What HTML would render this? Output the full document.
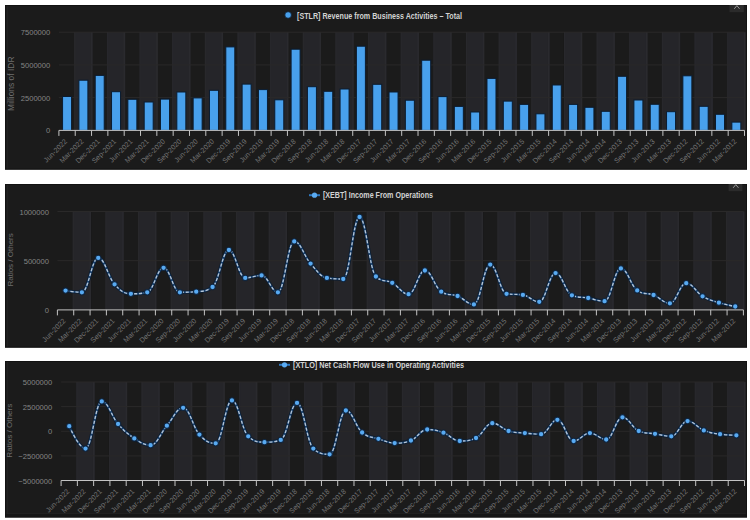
<!DOCTYPE html>
<html><head><meta charset="utf-8"><title>Charts</title>
<style>
html,body{margin:0;padding:0;background:#ffffff;}
body{width:750px;height:520px;overflow:hidden;}
svg{display:block;font-family:"Liberation Sans", sans-serif;}
</style></head>
<body>
<svg width="750" height="520" viewBox="0 0 750 520">
<rect x="0" y="0" width="750" height="520" fill="#ffffff"/>
<rect x="5" y="5" width="742" height="164.6" fill="#1b1b1b"/>
<rect x="5.5" y="5.5" width="741" height="163.6" fill="none" stroke="#121212" stroke-width="1"/>
<rect x="7" y="6" width="0.8" height="162.6" fill="#222222"/>
<rect x="74.27" y="32.20" width="18.22" height="98.20" fill="#252529"/>
<rect x="74.27" y="32.20" width="1" height="98.20" fill="#29292d"/>
<rect x="90.90" y="32.20" width="1.6" height="98.20" fill="#2a2a2e"/>
<rect x="106.92" y="32.20" width="18.22" height="98.20" fill="#252529"/>
<rect x="106.92" y="32.20" width="1" height="98.20" fill="#29292d"/>
<rect x="123.55" y="32.20" width="1.6" height="98.20" fill="#2a2a2e"/>
<rect x="139.57" y="32.20" width="18.22" height="98.20" fill="#252529"/>
<rect x="139.57" y="32.20" width="1" height="98.20" fill="#29292d"/>
<rect x="156.19" y="32.20" width="1.6" height="98.20" fill="#2a2a2e"/>
<rect x="172.22" y="32.20" width="18.22" height="98.20" fill="#252529"/>
<rect x="172.22" y="32.20" width="1" height="98.20" fill="#29292d"/>
<rect x="188.84" y="32.20" width="1.6" height="98.20" fill="#2a2a2e"/>
<rect x="204.86" y="32.20" width="18.22" height="98.20" fill="#252529"/>
<rect x="204.86" y="32.20" width="1" height="98.20" fill="#29292d"/>
<rect x="221.49" y="32.20" width="1.6" height="98.20" fill="#2a2a2e"/>
<rect x="237.51" y="32.20" width="18.22" height="98.20" fill="#252529"/>
<rect x="237.51" y="32.20" width="1" height="98.20" fill="#29292d"/>
<rect x="254.14" y="32.20" width="1.6" height="98.20" fill="#2a2a2e"/>
<rect x="270.16" y="32.20" width="18.22" height="98.20" fill="#252529"/>
<rect x="270.16" y="32.20" width="1" height="98.20" fill="#29292d"/>
<rect x="286.78" y="32.20" width="1.6" height="98.20" fill="#2a2a2e"/>
<rect x="302.81" y="32.20" width="18.22" height="98.20" fill="#252529"/>
<rect x="302.81" y="32.20" width="1" height="98.20" fill="#29292d"/>
<rect x="319.43" y="32.20" width="1.6" height="98.20" fill="#2a2a2e"/>
<rect x="335.45" y="32.20" width="18.22" height="98.20" fill="#252529"/>
<rect x="335.45" y="32.20" width="1" height="98.20" fill="#29292d"/>
<rect x="352.08" y="32.20" width="1.6" height="98.20" fill="#2a2a2e"/>
<rect x="368.10" y="32.20" width="18.22" height="98.20" fill="#252529"/>
<rect x="368.10" y="32.20" width="1" height="98.20" fill="#29292d"/>
<rect x="384.73" y="32.20" width="1.6" height="98.20" fill="#2a2a2e"/>
<rect x="400.75" y="32.20" width="18.22" height="98.20" fill="#252529"/>
<rect x="400.75" y="32.20" width="1" height="98.20" fill="#29292d"/>
<rect x="417.37" y="32.20" width="1.6" height="98.20" fill="#2a2a2e"/>
<rect x="433.40" y="32.20" width="18.22" height="98.20" fill="#252529"/>
<rect x="433.40" y="32.20" width="1" height="98.20" fill="#29292d"/>
<rect x="450.02" y="32.20" width="1.6" height="98.20" fill="#2a2a2e"/>
<rect x="466.05" y="32.20" width="18.22" height="98.20" fill="#252529"/>
<rect x="466.05" y="32.20" width="1" height="98.20" fill="#29292d"/>
<rect x="482.67" y="32.20" width="1.6" height="98.20" fill="#2a2a2e"/>
<rect x="498.69" y="32.20" width="18.22" height="98.20" fill="#252529"/>
<rect x="498.69" y="32.20" width="1" height="98.20" fill="#29292d"/>
<rect x="515.32" y="32.20" width="1.6" height="98.20" fill="#2a2a2e"/>
<rect x="531.34" y="32.20" width="18.22" height="98.20" fill="#252529"/>
<rect x="531.34" y="32.20" width="1" height="98.20" fill="#29292d"/>
<rect x="547.96" y="32.20" width="1.6" height="98.20" fill="#2a2a2e"/>
<rect x="563.99" y="32.20" width="18.22" height="98.20" fill="#252529"/>
<rect x="563.99" y="32.20" width="1" height="98.20" fill="#29292d"/>
<rect x="580.61" y="32.20" width="1.6" height="98.20" fill="#2a2a2e"/>
<rect x="596.64" y="32.20" width="18.22" height="98.20" fill="#252529"/>
<rect x="596.64" y="32.20" width="1" height="98.20" fill="#29292d"/>
<rect x="613.26" y="32.20" width="1.6" height="98.20" fill="#2a2a2e"/>
<rect x="629.28" y="32.20" width="18.22" height="98.20" fill="#252529"/>
<rect x="629.28" y="32.20" width="1" height="98.20" fill="#29292d"/>
<rect x="645.91" y="32.20" width="1.6" height="98.20" fill="#2a2a2e"/>
<rect x="661.93" y="32.20" width="18.22" height="98.20" fill="#252529"/>
<rect x="661.93" y="32.20" width="1" height="98.20" fill="#29292d"/>
<rect x="678.55" y="32.20" width="1.6" height="98.20" fill="#2a2a2e"/>
<rect x="694.58" y="32.20" width="18.22" height="98.20" fill="#252529"/>
<rect x="694.58" y="32.20" width="1" height="98.20" fill="#29292d"/>
<rect x="711.20" y="32.20" width="1.6" height="98.20" fill="#2a2a2e"/>
<rect x="727.23" y="32.20" width="18.22" height="98.20" fill="#252529"/>
<rect x="727.23" y="32.20" width="1" height="98.20" fill="#29292d"/>
<rect x="743.85" y="32.20" width="1.6" height="98.20" fill="#2a2a2e"/>
<line x1="58.90" x2="744.50" y1="32.20" y2="32.20" stroke="#2a2929" stroke-width="1"/>
<line x1="58.90" x2="744.50" y1="64.90" y2="64.90" stroke="#2a2929" stroke-width="1"/>
<line x1="58.90" x2="744.50" y1="97.60" y2="97.60" stroke="#2a2929" stroke-width="1"/>
<text x="50.3" y="35.20" text-anchor="end" font-size="7.6" fill="#858585">7500000</text>
<text x="50.3" y="67.90" text-anchor="end" font-size="7.6" fill="#858585">5000000</text>
<text x="50.3" y="100.60" text-anchor="end" font-size="7.6" fill="#858585">2500000</text>
<text x="50.3" y="133.40" text-anchor="end" font-size="7.6" fill="#858585">0</text>
<text transform="translate(14.3,83.70) rotate(-90)" text-anchor="middle" font-size="8.45" fill="#6e6e6e">Millions of IDR</text>
<rect x="62.56" y="96.50" width="9" height="33.90" fill="#48a0ec" stroke="#0b1c30" stroke-width="1"/>
<rect x="78.89" y="80.20" width="9" height="50.20" fill="#48a0ec" stroke="#0b1c30" stroke-width="1"/>
<rect x="95.21" y="75.40" width="9" height="55.00" fill="#48a0ec" stroke="#0b1c30" stroke-width="1"/>
<rect x="111.53" y="91.70" width="9" height="38.70" fill="#48a0ec" stroke="#0b1c30" stroke-width="1"/>
<rect x="127.86" y="99.30" width="9" height="31.10" fill="#48a0ec" stroke="#0b1c30" stroke-width="1"/>
<rect x="144.18" y="102.00" width="9" height="28.40" fill="#48a0ec" stroke="#0b1c30" stroke-width="1"/>
<rect x="160.50" y="99.10" width="9" height="31.30" fill="#48a0ec" stroke="#0b1c30" stroke-width="1"/>
<rect x="176.83" y="92.00" width="9" height="38.40" fill="#48a0ec" stroke="#0b1c30" stroke-width="1"/>
<rect x="193.15" y="97.90" width="9" height="32.50" fill="#48a0ec" stroke="#0b1c30" stroke-width="1"/>
<rect x="209.48" y="90.30" width="9" height="40.10" fill="#48a0ec" stroke="#0b1c30" stroke-width="1"/>
<rect x="225.80" y="46.90" width="9" height="83.50" fill="#48a0ec" stroke="#0b1c30" stroke-width="1"/>
<rect x="242.12" y="84.10" width="9" height="46.30" fill="#48a0ec" stroke="#0b1c30" stroke-width="1"/>
<rect x="258.45" y="89.60" width="9" height="40.80" fill="#48a0ec" stroke="#0b1c30" stroke-width="1"/>
<rect x="274.77" y="99.80" width="9" height="30.60" fill="#48a0ec" stroke="#0b1c30" stroke-width="1"/>
<rect x="291.10" y="49.20" width="9" height="81.20" fill="#48a0ec" stroke="#0b1c30" stroke-width="1"/>
<rect x="307.42" y="86.70" width="9" height="43.70" fill="#48a0ec" stroke="#0b1c30" stroke-width="1"/>
<rect x="323.74" y="91.30" width="9" height="39.10" fill="#48a0ec" stroke="#0b1c30" stroke-width="1"/>
<rect x="340.07" y="89.00" width="9" height="41.40" fill="#48a0ec" stroke="#0b1c30" stroke-width="1"/>
<rect x="356.39" y="46.20" width="9" height="84.20" fill="#48a0ec" stroke="#0b1c30" stroke-width="1"/>
<rect x="372.71" y="84.30" width="9" height="46.10" fill="#48a0ec" stroke="#0b1c30" stroke-width="1"/>
<rect x="389.04" y="92.00" width="9" height="38.40" fill="#48a0ec" stroke="#0b1c30" stroke-width="1"/>
<rect x="405.36" y="100.20" width="9" height="30.20" fill="#48a0ec" stroke="#0b1c30" stroke-width="1"/>
<rect x="421.69" y="60.20" width="9" height="70.20" fill="#48a0ec" stroke="#0b1c30" stroke-width="1"/>
<rect x="438.01" y="96.60" width="9" height="33.80" fill="#48a0ec" stroke="#0b1c30" stroke-width="1"/>
<rect x="454.33" y="106.40" width="9" height="24.00" fill="#48a0ec" stroke="#0b1c30" stroke-width="1"/>
<rect x="470.66" y="112.00" width="9" height="18.40" fill="#48a0ec" stroke="#0b1c30" stroke-width="1"/>
<rect x="486.98" y="78.40" width="9" height="52.00" fill="#48a0ec" stroke="#0b1c30" stroke-width="1"/>
<rect x="503.30" y="101.10" width="9" height="29.30" fill="#48a0ec" stroke="#0b1c30" stroke-width="1"/>
<rect x="519.63" y="104.40" width="9" height="26.00" fill="#48a0ec" stroke="#0b1c30" stroke-width="1"/>
<rect x="535.95" y="113.80" width="9" height="16.60" fill="#48a0ec" stroke="#0b1c30" stroke-width="1"/>
<rect x="552.28" y="85.00" width="9" height="45.40" fill="#48a0ec" stroke="#0b1c30" stroke-width="1"/>
<rect x="568.60" y="104.40" width="9" height="26.00" fill="#48a0ec" stroke="#0b1c30" stroke-width="1"/>
<rect x="584.92" y="107.30" width="9" height="23.10" fill="#48a0ec" stroke="#0b1c30" stroke-width="1"/>
<rect x="601.25" y="111.30" width="9" height="19.10" fill="#48a0ec" stroke="#0b1c30" stroke-width="1"/>
<rect x="617.57" y="76.30" width="9" height="54.10" fill="#48a0ec" stroke="#0b1c30" stroke-width="1"/>
<rect x="633.90" y="100.00" width="9" height="30.40" fill="#48a0ec" stroke="#0b1c30" stroke-width="1"/>
<rect x="650.22" y="104.30" width="9" height="26.10" fill="#48a0ec" stroke="#0b1c30" stroke-width="1"/>
<rect x="666.54" y="111.70" width="9" height="18.70" fill="#48a0ec" stroke="#0b1c30" stroke-width="1"/>
<rect x="682.87" y="75.80" width="9" height="54.60" fill="#48a0ec" stroke="#0b1c30" stroke-width="1"/>
<rect x="699.19" y="106.30" width="9" height="24.10" fill="#48a0ec" stroke="#0b1c30" stroke-width="1"/>
<rect x="715.51" y="114.30" width="9" height="16.10" fill="#48a0ec" stroke="#0b1c30" stroke-width="1"/>
<rect x="731.84" y="122.10" width="9" height="8.30" fill="#48a0ec" stroke="#0b1c30" stroke-width="1"/>
<line x1="58.90" x2="744.50" y1="130.40" y2="130.40" stroke="#c4c4c4" stroke-width="1"/>
<line x1="58.90" x2="58.90" y1="130.40" y2="135.90" stroke="#c4c4c4" stroke-width="1"/>
<line x1="75.22" x2="75.22" y1="130.40" y2="135.90" stroke="#c4c4c4" stroke-width="1"/>
<line x1="91.55" x2="91.55" y1="130.40" y2="135.90" stroke="#c4c4c4" stroke-width="1"/>
<line x1="107.87" x2="107.87" y1="130.40" y2="135.90" stroke="#c4c4c4" stroke-width="1"/>
<line x1="124.20" x2="124.20" y1="130.40" y2="135.90" stroke="#c4c4c4" stroke-width="1"/>
<line x1="140.52" x2="140.52" y1="130.40" y2="135.90" stroke="#c4c4c4" stroke-width="1"/>
<line x1="156.84" x2="156.84" y1="130.40" y2="135.90" stroke="#c4c4c4" stroke-width="1"/>
<line x1="173.17" x2="173.17" y1="130.40" y2="135.90" stroke="#c4c4c4" stroke-width="1"/>
<line x1="189.49" x2="189.49" y1="130.40" y2="135.90" stroke="#c4c4c4" stroke-width="1"/>
<line x1="205.81" x2="205.81" y1="130.40" y2="135.90" stroke="#c4c4c4" stroke-width="1"/>
<line x1="222.14" x2="222.14" y1="130.40" y2="135.90" stroke="#c4c4c4" stroke-width="1"/>
<line x1="238.46" x2="238.46" y1="130.40" y2="135.90" stroke="#c4c4c4" stroke-width="1"/>
<line x1="254.79" x2="254.79" y1="130.40" y2="135.90" stroke="#c4c4c4" stroke-width="1"/>
<line x1="271.11" x2="271.11" y1="130.40" y2="135.90" stroke="#c4c4c4" stroke-width="1"/>
<line x1="287.43" x2="287.43" y1="130.40" y2="135.90" stroke="#c4c4c4" stroke-width="1"/>
<line x1="303.76" x2="303.76" y1="130.40" y2="135.90" stroke="#c4c4c4" stroke-width="1"/>
<line x1="320.08" x2="320.08" y1="130.40" y2="135.90" stroke="#c4c4c4" stroke-width="1"/>
<line x1="336.40" x2="336.40" y1="130.40" y2="135.90" stroke="#c4c4c4" stroke-width="1"/>
<line x1="352.73" x2="352.73" y1="130.40" y2="135.90" stroke="#c4c4c4" stroke-width="1"/>
<line x1="369.05" x2="369.05" y1="130.40" y2="135.90" stroke="#c4c4c4" stroke-width="1"/>
<line x1="385.38" x2="385.38" y1="130.40" y2="135.90" stroke="#c4c4c4" stroke-width="1"/>
<line x1="401.70" x2="401.70" y1="130.40" y2="135.90" stroke="#c4c4c4" stroke-width="1"/>
<line x1="418.02" x2="418.02" y1="130.40" y2="135.90" stroke="#c4c4c4" stroke-width="1"/>
<line x1="434.35" x2="434.35" y1="130.40" y2="135.90" stroke="#c4c4c4" stroke-width="1"/>
<line x1="450.67" x2="450.67" y1="130.40" y2="135.90" stroke="#c4c4c4" stroke-width="1"/>
<line x1="467.00" x2="467.00" y1="130.40" y2="135.90" stroke="#c4c4c4" stroke-width="1"/>
<line x1="483.32" x2="483.32" y1="130.40" y2="135.90" stroke="#c4c4c4" stroke-width="1"/>
<line x1="499.64" x2="499.64" y1="130.40" y2="135.90" stroke="#c4c4c4" stroke-width="1"/>
<line x1="515.97" x2="515.97" y1="130.40" y2="135.90" stroke="#c4c4c4" stroke-width="1"/>
<line x1="532.29" x2="532.29" y1="130.40" y2="135.90" stroke="#c4c4c4" stroke-width="1"/>
<line x1="548.61" x2="548.61" y1="130.40" y2="135.90" stroke="#c4c4c4" stroke-width="1"/>
<line x1="564.94" x2="564.94" y1="130.40" y2="135.90" stroke="#c4c4c4" stroke-width="1"/>
<line x1="581.26" x2="581.26" y1="130.40" y2="135.90" stroke="#c4c4c4" stroke-width="1"/>
<line x1="597.59" x2="597.59" y1="130.40" y2="135.90" stroke="#c4c4c4" stroke-width="1"/>
<line x1="613.91" x2="613.91" y1="130.40" y2="135.90" stroke="#c4c4c4" stroke-width="1"/>
<line x1="630.23" x2="630.23" y1="130.40" y2="135.90" stroke="#c4c4c4" stroke-width="1"/>
<line x1="646.56" x2="646.56" y1="130.40" y2="135.90" stroke="#c4c4c4" stroke-width="1"/>
<line x1="662.88" x2="662.88" y1="130.40" y2="135.90" stroke="#c4c4c4" stroke-width="1"/>
<line x1="679.20" x2="679.20" y1="130.40" y2="135.90" stroke="#c4c4c4" stroke-width="1"/>
<line x1="695.53" x2="695.53" y1="130.40" y2="135.90" stroke="#c4c4c4" stroke-width="1"/>
<line x1="711.85" x2="711.85" y1="130.40" y2="135.90" stroke="#c4c4c4" stroke-width="1"/>
<line x1="728.18" x2="728.18" y1="130.40" y2="135.90" stroke="#c4c4c4" stroke-width="1"/>
<line x1="744.50" x2="744.50" y1="130.40" y2="135.90" stroke="#c4c4c4" stroke-width="1"/>
<text transform="translate(67.66,141.90) rotate(-45)" text-anchor="end" font-size="7.15" fill="#747474">Jun-2022</text>
<text transform="translate(83.99,141.90) rotate(-45)" text-anchor="end" font-size="7.15" fill="#747474">Mar-2022</text>
<text transform="translate(100.31,141.90) rotate(-45)" text-anchor="end" font-size="7.15" fill="#747474">Dec-2021</text>
<text transform="translate(116.63,141.90) rotate(-45)" text-anchor="end" font-size="7.15" fill="#747474">Sep-2021</text>
<text transform="translate(132.96,141.90) rotate(-45)" text-anchor="end" font-size="7.15" fill="#747474">Jun-2021</text>
<text transform="translate(149.28,141.90) rotate(-45)" text-anchor="end" font-size="7.15" fill="#747474">Mar-2021</text>
<text transform="translate(165.60,141.90) rotate(-45)" text-anchor="end" font-size="7.15" fill="#747474">Dec-2020</text>
<text transform="translate(181.93,141.90) rotate(-45)" text-anchor="end" font-size="7.15" fill="#747474">Sep-2020</text>
<text transform="translate(198.25,141.90) rotate(-45)" text-anchor="end" font-size="7.15" fill="#747474">Jun-2020</text>
<text transform="translate(214.58,141.90) rotate(-45)" text-anchor="end" font-size="7.15" fill="#747474">Mar-2020</text>
<text transform="translate(230.90,141.90) rotate(-45)" text-anchor="end" font-size="7.15" fill="#747474">Dec-2019</text>
<text transform="translate(247.22,141.90) rotate(-45)" text-anchor="end" font-size="7.15" fill="#747474">Sep-2019</text>
<text transform="translate(263.55,141.90) rotate(-45)" text-anchor="end" font-size="7.15" fill="#747474">Jun-2019</text>
<text transform="translate(279.87,141.90) rotate(-45)" text-anchor="end" font-size="7.15" fill="#747474">Mar-2019</text>
<text transform="translate(296.20,141.90) rotate(-45)" text-anchor="end" font-size="7.15" fill="#747474">Dec-2018</text>
<text transform="translate(312.52,141.90) rotate(-45)" text-anchor="end" font-size="7.15" fill="#747474">Sep-2018</text>
<text transform="translate(328.84,141.90) rotate(-45)" text-anchor="end" font-size="7.15" fill="#747474">Jun-2018</text>
<text transform="translate(345.17,141.90) rotate(-45)" text-anchor="end" font-size="7.15" fill="#747474">Mar-2018</text>
<text transform="translate(361.49,141.90) rotate(-45)" text-anchor="end" font-size="7.15" fill="#747474">Dec-2017</text>
<text transform="translate(377.81,141.90) rotate(-45)" text-anchor="end" font-size="7.15" fill="#747474">Sep-2017</text>
<text transform="translate(394.14,141.90) rotate(-45)" text-anchor="end" font-size="7.15" fill="#747474">Jun-2017</text>
<text transform="translate(410.46,141.90) rotate(-45)" text-anchor="end" font-size="7.15" fill="#747474">Mar-2017</text>
<text transform="translate(426.79,141.90) rotate(-45)" text-anchor="end" font-size="7.15" fill="#747474">Dec-2016</text>
<text transform="translate(443.11,141.90) rotate(-45)" text-anchor="end" font-size="7.15" fill="#747474">Sep-2016</text>
<text transform="translate(459.43,141.90) rotate(-45)" text-anchor="end" font-size="7.15" fill="#747474">Jun-2016</text>
<text transform="translate(475.76,141.90) rotate(-45)" text-anchor="end" font-size="7.15" fill="#747474">Mar-2016</text>
<text transform="translate(492.08,141.90) rotate(-45)" text-anchor="end" font-size="7.15" fill="#747474">Dec-2015</text>
<text transform="translate(508.40,141.90) rotate(-45)" text-anchor="end" font-size="7.15" fill="#747474">Sep-2015</text>
<text transform="translate(524.73,141.90) rotate(-45)" text-anchor="end" font-size="7.15" fill="#747474">Jun-2015</text>
<text transform="translate(541.05,141.90) rotate(-45)" text-anchor="end" font-size="7.15" fill="#747474">Mar-2015</text>
<text transform="translate(557.38,141.90) rotate(-45)" text-anchor="end" font-size="7.15" fill="#747474">Dec-2014</text>
<text transform="translate(573.70,141.90) rotate(-45)" text-anchor="end" font-size="7.15" fill="#747474">Sep-2014</text>
<text transform="translate(590.02,141.90) rotate(-45)" text-anchor="end" font-size="7.15" fill="#747474">Jun-2014</text>
<text transform="translate(606.35,141.90) rotate(-45)" text-anchor="end" font-size="7.15" fill="#747474">Mar-2014</text>
<text transform="translate(622.67,141.90) rotate(-45)" text-anchor="end" font-size="7.15" fill="#747474">Dec-2013</text>
<text transform="translate(639.00,141.90) rotate(-45)" text-anchor="end" font-size="7.15" fill="#747474">Sep-2013</text>
<text transform="translate(655.32,141.90) rotate(-45)" text-anchor="end" font-size="7.15" fill="#747474">Jun-2013</text>
<text transform="translate(671.64,141.90) rotate(-45)" text-anchor="end" font-size="7.15" fill="#747474">Mar-2013</text>
<text transform="translate(687.97,141.90) rotate(-45)" text-anchor="end" font-size="7.15" fill="#747474">Dec-2012</text>
<text transform="translate(704.29,141.90) rotate(-45)" text-anchor="end" font-size="7.15" fill="#747474">Sep-2012</text>
<text transform="translate(720.61,141.90) rotate(-45)" text-anchor="end" font-size="7.15" fill="#747474">Jun-2012</text>
<text transform="translate(736.94,141.90) rotate(-45)" text-anchor="end" font-size="7.15" fill="#747474">Mar-2012</text>
<circle cx="288.10" cy="15.00" r="3.3" fill="#48a0ec" stroke="#0b1c30" stroke-width="0.8"/>
<text x="297.00" y="19.10" font-size="8.4" font-weight="bold" fill="#d2d2d2" textLength="165" lengthAdjust="spacingAndGlyphs">[STLR] Revenue from Business Activities – Total</text>
<rect x="729.5" y="5" width="14.3" height="7.2" fill="#2b2b2b"/>
<path d="M734.3,8.8 L736.9,5.6 L739.5,8.8" fill="none" stroke="#9a9a9a" stroke-width="1"/>
<rect x="5" y="184" width="742" height="163.6" fill="#1b1b1b"/>
<rect x="5.5" y="184.5" width="741" height="162.6" fill="none" stroke="#121212" stroke-width="1"/>
<rect x="7" y="185" width="0.8" height="161.6" fill="#222222"/>
<rect x="72.78" y="211.50" width="18.23" height="98.40" fill="#252529"/>
<rect x="72.78" y="211.50" width="1" height="98.40" fill="#29292d"/>
<rect x="89.42" y="211.50" width="1.6" height="98.40" fill="#2a2a2e"/>
<rect x="105.45" y="211.50" width="18.23" height="98.40" fill="#252529"/>
<rect x="105.45" y="211.50" width="1" height="98.40" fill="#29292d"/>
<rect x="122.08" y="211.50" width="1.6" height="98.40" fill="#2a2a2e"/>
<rect x="138.12" y="211.50" width="18.23" height="98.40" fill="#252529"/>
<rect x="138.12" y="211.50" width="1" height="98.40" fill="#29292d"/>
<rect x="154.75" y="211.50" width="1.6" height="98.40" fill="#2a2a2e"/>
<rect x="170.78" y="211.50" width="18.23" height="98.40" fill="#252529"/>
<rect x="170.78" y="211.50" width="1" height="98.40" fill="#29292d"/>
<rect x="187.42" y="211.50" width="1.6" height="98.40" fill="#2a2a2e"/>
<rect x="203.45" y="211.50" width="18.23" height="98.40" fill="#252529"/>
<rect x="203.45" y="211.50" width="1" height="98.40" fill="#29292d"/>
<rect x="220.08" y="211.50" width="1.6" height="98.40" fill="#2a2a2e"/>
<rect x="236.12" y="211.50" width="18.23" height="98.40" fill="#252529"/>
<rect x="236.12" y="211.50" width="1" height="98.40" fill="#29292d"/>
<rect x="252.75" y="211.50" width="1.6" height="98.40" fill="#2a2a2e"/>
<rect x="268.78" y="211.50" width="18.23" height="98.40" fill="#252529"/>
<rect x="268.78" y="211.50" width="1" height="98.40" fill="#29292d"/>
<rect x="285.42" y="211.50" width="1.6" height="98.40" fill="#2a2a2e"/>
<rect x="301.45" y="211.50" width="18.23" height="98.40" fill="#252529"/>
<rect x="301.45" y="211.50" width="1" height="98.40" fill="#29292d"/>
<rect x="318.08" y="211.50" width="1.6" height="98.40" fill="#2a2a2e"/>
<rect x="334.12" y="211.50" width="18.23" height="98.40" fill="#252529"/>
<rect x="334.12" y="211.50" width="1" height="98.40" fill="#29292d"/>
<rect x="350.75" y="211.50" width="1.6" height="98.40" fill="#2a2a2e"/>
<rect x="366.78" y="211.50" width="18.23" height="98.40" fill="#252529"/>
<rect x="366.78" y="211.50" width="1" height="98.40" fill="#29292d"/>
<rect x="383.42" y="211.50" width="1.6" height="98.40" fill="#2a2a2e"/>
<rect x="399.45" y="211.50" width="18.23" height="98.40" fill="#252529"/>
<rect x="399.45" y="211.50" width="1" height="98.40" fill="#29292d"/>
<rect x="416.08" y="211.50" width="1.6" height="98.40" fill="#2a2a2e"/>
<rect x="432.12" y="211.50" width="18.23" height="98.40" fill="#252529"/>
<rect x="432.12" y="211.50" width="1" height="98.40" fill="#29292d"/>
<rect x="448.75" y="211.50" width="1.6" height="98.40" fill="#2a2a2e"/>
<rect x="464.78" y="211.50" width="18.23" height="98.40" fill="#252529"/>
<rect x="464.78" y="211.50" width="1" height="98.40" fill="#29292d"/>
<rect x="481.42" y="211.50" width="1.6" height="98.40" fill="#2a2a2e"/>
<rect x="497.45" y="211.50" width="18.23" height="98.40" fill="#252529"/>
<rect x="497.45" y="211.50" width="1" height="98.40" fill="#29292d"/>
<rect x="514.08" y="211.50" width="1.6" height="98.40" fill="#2a2a2e"/>
<rect x="530.12" y="211.50" width="18.23" height="98.40" fill="#252529"/>
<rect x="530.12" y="211.50" width="1" height="98.40" fill="#29292d"/>
<rect x="546.75" y="211.50" width="1.6" height="98.40" fill="#2a2a2e"/>
<rect x="562.78" y="211.50" width="18.23" height="98.40" fill="#252529"/>
<rect x="562.78" y="211.50" width="1" height="98.40" fill="#29292d"/>
<rect x="579.42" y="211.50" width="1.6" height="98.40" fill="#2a2a2e"/>
<rect x="595.45" y="211.50" width="18.23" height="98.40" fill="#252529"/>
<rect x="595.45" y="211.50" width="1" height="98.40" fill="#29292d"/>
<rect x="612.08" y="211.50" width="1.6" height="98.40" fill="#2a2a2e"/>
<rect x="628.12" y="211.50" width="18.23" height="98.40" fill="#252529"/>
<rect x="628.12" y="211.50" width="1" height="98.40" fill="#29292d"/>
<rect x="644.75" y="211.50" width="1.6" height="98.40" fill="#2a2a2e"/>
<rect x="660.78" y="211.50" width="18.23" height="98.40" fill="#252529"/>
<rect x="660.78" y="211.50" width="1" height="98.40" fill="#29292d"/>
<rect x="677.42" y="211.50" width="1.6" height="98.40" fill="#2a2a2e"/>
<rect x="693.45" y="211.50" width="18.23" height="98.40" fill="#252529"/>
<rect x="693.45" y="211.50" width="1" height="98.40" fill="#29292d"/>
<rect x="710.08" y="211.50" width="1.6" height="98.40" fill="#2a2a2e"/>
<rect x="726.12" y="211.50" width="18.23" height="98.40" fill="#252529"/>
<rect x="726.12" y="211.50" width="1" height="98.40" fill="#29292d"/>
<rect x="742.75" y="211.50" width="1.6" height="98.40" fill="#2a2a2e"/>
<line x1="57.40" x2="743.40" y1="211.50" y2="211.50" stroke="#2a2929" stroke-width="1"/>
<line x1="57.40" x2="743.40" y1="260.70" y2="260.70" stroke="#2a2929" stroke-width="1"/>
<text x="49.0" y="214.50" text-anchor="end" font-size="7.6" fill="#858585">1000000</text>
<text x="49.0" y="263.70" text-anchor="end" font-size="7.6" fill="#858585">500000</text>
<text x="49.0" y="312.90" text-anchor="end" font-size="7.6" fill="#858585">0</text>
<text transform="translate(12.5,259.90) rotate(-90)" text-anchor="middle" font-size="8.0" fill="#6e6e6e">Ratios / Others</text>
<path d="M65.57,290.60 C65.57,290.60 75.37,292.30 81.90,292.30 C88.43,292.30 91.70,257.90 98.23,257.90 C104.77,257.90 108.03,277.12 114.57,284.30 C121.10,291.48 124.37,293.80 130.90,293.80 C137.43,293.80 140.70,293.80 147.23,292.30 C153.77,290.80 157.03,267.80 163.57,267.80 C170.10,267.80 173.37,292.30 179.90,292.30 C186.43,292.30 189.70,292.30 196.23,291.70 C202.77,291.10 206.03,291.70 212.57,287.00 C219.10,282.30 222.37,250.00 228.90,250.00 C235.43,250.00 238.70,277.90 245.23,277.90 C251.77,277.90 255.03,275.40 261.57,275.40 C268.10,275.40 271.37,292.30 277.90,292.30 C284.43,292.30 287.70,241.40 294.23,241.40 C300.77,241.40 304.03,256.30 310.57,263.60 C317.10,270.90 320.37,276.80 326.90,277.90 C333.43,279.00 336.70,279.00 343.23,279.00 C349.77,279.00 353.03,217.00 359.57,217.00 C366.10,217.00 369.37,270.20 375.90,276.50 C382.43,282.80 385.70,279.26 392.23,282.80 C398.77,286.34 402.03,294.20 408.57,294.20 C415.10,294.20 418.37,270.50 424.90,270.50 C431.43,270.50 434.70,287.40 441.23,291.70 C447.77,296.00 451.03,293.46 457.57,296.00 C464.10,298.54 467.37,304.40 473.90,304.40 C480.43,304.40 483.70,264.60 490.23,264.60 C496.77,264.60 500.03,292.70 506.57,293.80 C513.10,294.90 516.37,293.80 522.90,294.90 C529.43,296.00 532.70,301.80 539.23,301.80 C545.77,301.80 549.03,273.10 555.57,273.10 C562.10,273.10 565.37,292.60 571.90,295.30 C578.43,298.00 581.70,296.82 588.23,298.00 C594.77,299.18 598.03,301.20 604.57,301.20 C611.10,301.20 614.37,268.40 620.90,268.40 C627.43,268.40 630.70,285.80 637.23,290.40 C643.77,295.00 647.03,292.42 653.57,295.00 C660.10,297.58 663.37,303.30 669.90,303.30 C676.43,303.30 679.70,283.20 686.23,283.20 C692.77,283.20 696.03,292.40 702.57,296.30 C709.10,300.20 712.37,300.66 718.90,302.70 C725.43,304.74 735.23,306.50 735.23,306.50" fill="none" stroke="#0b1d33" stroke-width="3.5" stroke-opacity="0.85"/>
<path d="M65.57,290.60 C65.57,290.60 75.37,292.30 81.90,292.30 C88.43,292.30 91.70,257.90 98.23,257.90 C104.77,257.90 108.03,277.12 114.57,284.30 C121.10,291.48 124.37,293.80 130.90,293.80 C137.43,293.80 140.70,293.80 147.23,292.30 C153.77,290.80 157.03,267.80 163.57,267.80 C170.10,267.80 173.37,292.30 179.90,292.30 C186.43,292.30 189.70,292.30 196.23,291.70 C202.77,291.10 206.03,291.70 212.57,287.00 C219.10,282.30 222.37,250.00 228.90,250.00 C235.43,250.00 238.70,277.90 245.23,277.90 C251.77,277.90 255.03,275.40 261.57,275.40 C268.10,275.40 271.37,292.30 277.90,292.30 C284.43,292.30 287.70,241.40 294.23,241.40 C300.77,241.40 304.03,256.30 310.57,263.60 C317.10,270.90 320.37,276.80 326.90,277.90 C333.43,279.00 336.70,279.00 343.23,279.00 C349.77,279.00 353.03,217.00 359.57,217.00 C366.10,217.00 369.37,270.20 375.90,276.50 C382.43,282.80 385.70,279.26 392.23,282.80 C398.77,286.34 402.03,294.20 408.57,294.20 C415.10,294.20 418.37,270.50 424.90,270.50 C431.43,270.50 434.70,287.40 441.23,291.70 C447.77,296.00 451.03,293.46 457.57,296.00 C464.10,298.54 467.37,304.40 473.90,304.40 C480.43,304.40 483.70,264.60 490.23,264.60 C496.77,264.60 500.03,292.70 506.57,293.80 C513.10,294.90 516.37,293.80 522.90,294.90 C529.43,296.00 532.70,301.80 539.23,301.80 C545.77,301.80 549.03,273.10 555.57,273.10 C562.10,273.10 565.37,292.60 571.90,295.30 C578.43,298.00 581.70,296.82 588.23,298.00 C594.77,299.18 598.03,301.20 604.57,301.20 C611.10,301.20 614.37,268.40 620.90,268.40 C627.43,268.40 630.70,285.80 637.23,290.40 C643.77,295.00 647.03,292.42 653.57,295.00 C660.10,297.58 663.37,303.30 669.90,303.30 C676.43,303.30 679.70,283.20 686.23,283.20 C692.77,283.20 696.03,292.40 702.57,296.30 C709.10,300.20 712.37,300.66 718.90,302.70 C725.43,304.74 735.23,306.50 735.23,306.50" fill="none" stroke="#1a4370" stroke-width="1.8"/>
<path d="M65.57,290.60 C65.57,290.60 75.37,292.30 81.90,292.30 C88.43,292.30 91.70,257.90 98.23,257.90 C104.77,257.90 108.03,277.12 114.57,284.30 C121.10,291.48 124.37,293.80 130.90,293.80 C137.43,293.80 140.70,293.80 147.23,292.30 C153.77,290.80 157.03,267.80 163.57,267.80 C170.10,267.80 173.37,292.30 179.90,292.30 C186.43,292.30 189.70,292.30 196.23,291.70 C202.77,291.10 206.03,291.70 212.57,287.00 C219.10,282.30 222.37,250.00 228.90,250.00 C235.43,250.00 238.70,277.90 245.23,277.90 C251.77,277.90 255.03,275.40 261.57,275.40 C268.10,275.40 271.37,292.30 277.90,292.30 C284.43,292.30 287.70,241.40 294.23,241.40 C300.77,241.40 304.03,256.30 310.57,263.60 C317.10,270.90 320.37,276.80 326.90,277.90 C333.43,279.00 336.70,279.00 343.23,279.00 C349.77,279.00 353.03,217.00 359.57,217.00 C366.10,217.00 369.37,270.20 375.90,276.50 C382.43,282.80 385.70,279.26 392.23,282.80 C398.77,286.34 402.03,294.20 408.57,294.20 C415.10,294.20 418.37,270.50 424.90,270.50 C431.43,270.50 434.70,287.40 441.23,291.70 C447.77,296.00 451.03,293.46 457.57,296.00 C464.10,298.54 467.37,304.40 473.90,304.40 C480.43,304.40 483.70,264.60 490.23,264.60 C496.77,264.60 500.03,292.70 506.57,293.80 C513.10,294.90 516.37,293.80 522.90,294.90 C529.43,296.00 532.70,301.80 539.23,301.80 C545.77,301.80 549.03,273.10 555.57,273.10 C562.10,273.10 565.37,292.60 571.90,295.30 C578.43,298.00 581.70,296.82 588.23,298.00 C594.77,299.18 598.03,301.20 604.57,301.20 C611.10,301.20 614.37,268.40 620.90,268.40 C627.43,268.40 630.70,285.80 637.23,290.40 C643.77,295.00 647.03,292.42 653.57,295.00 C660.10,297.58 663.37,303.30 669.90,303.30 C676.43,303.30 679.70,283.20 686.23,283.20 C692.77,283.20 696.03,292.40 702.57,296.30 C709.10,300.20 712.37,300.66 718.90,302.70 C725.43,304.74 735.23,306.50 735.23,306.50" fill="none" stroke="#b4c4d6" stroke-width="1.35" stroke-dasharray="3.2 1.8"/>
<circle cx="65.57" cy="290.60" r="2.7" fill="#58aaf2" stroke="#0c2038" stroke-width="1.1" stroke-opacity="0.9"/>
<circle cx="81.90" cy="292.30" r="2.7" fill="#58aaf2" stroke="#0c2038" stroke-width="1.1" stroke-opacity="0.9"/>
<circle cx="98.23" cy="257.90" r="2.7" fill="#58aaf2" stroke="#0c2038" stroke-width="1.1" stroke-opacity="0.9"/>
<circle cx="114.57" cy="284.30" r="2.7" fill="#58aaf2" stroke="#0c2038" stroke-width="1.1" stroke-opacity="0.9"/>
<circle cx="130.90" cy="293.80" r="2.7" fill="#58aaf2" stroke="#0c2038" stroke-width="1.1" stroke-opacity="0.9"/>
<circle cx="147.23" cy="292.30" r="2.7" fill="#58aaf2" stroke="#0c2038" stroke-width="1.1" stroke-opacity="0.9"/>
<circle cx="163.57" cy="267.80" r="2.7" fill="#58aaf2" stroke="#0c2038" stroke-width="1.1" stroke-opacity="0.9"/>
<circle cx="179.90" cy="292.30" r="2.7" fill="#58aaf2" stroke="#0c2038" stroke-width="1.1" stroke-opacity="0.9"/>
<circle cx="196.23" cy="291.70" r="2.7" fill="#58aaf2" stroke="#0c2038" stroke-width="1.1" stroke-opacity="0.9"/>
<circle cx="212.57" cy="287.00" r="2.7" fill="#58aaf2" stroke="#0c2038" stroke-width="1.1" stroke-opacity="0.9"/>
<circle cx="228.90" cy="250.00" r="2.7" fill="#58aaf2" stroke="#0c2038" stroke-width="1.1" stroke-opacity="0.9"/>
<circle cx="245.23" cy="277.90" r="2.7" fill="#58aaf2" stroke="#0c2038" stroke-width="1.1" stroke-opacity="0.9"/>
<circle cx="261.57" cy="275.40" r="2.7" fill="#58aaf2" stroke="#0c2038" stroke-width="1.1" stroke-opacity="0.9"/>
<circle cx="277.90" cy="292.30" r="2.7" fill="#58aaf2" stroke="#0c2038" stroke-width="1.1" stroke-opacity="0.9"/>
<circle cx="294.23" cy="241.40" r="2.7" fill="#58aaf2" stroke="#0c2038" stroke-width="1.1" stroke-opacity="0.9"/>
<circle cx="310.57" cy="263.60" r="2.7" fill="#58aaf2" stroke="#0c2038" stroke-width="1.1" stroke-opacity="0.9"/>
<circle cx="326.90" cy="277.90" r="2.7" fill="#58aaf2" stroke="#0c2038" stroke-width="1.1" stroke-opacity="0.9"/>
<circle cx="343.23" cy="279.00" r="2.7" fill="#58aaf2" stroke="#0c2038" stroke-width="1.1" stroke-opacity="0.9"/>
<circle cx="359.57" cy="217.00" r="2.7" fill="#58aaf2" stroke="#0c2038" stroke-width="1.1" stroke-opacity="0.9"/>
<circle cx="375.90" cy="276.50" r="2.7" fill="#58aaf2" stroke="#0c2038" stroke-width="1.1" stroke-opacity="0.9"/>
<circle cx="392.23" cy="282.80" r="2.7" fill="#58aaf2" stroke="#0c2038" stroke-width="1.1" stroke-opacity="0.9"/>
<circle cx="408.57" cy="294.20" r="2.7" fill="#58aaf2" stroke="#0c2038" stroke-width="1.1" stroke-opacity="0.9"/>
<circle cx="424.90" cy="270.50" r="2.7" fill="#58aaf2" stroke="#0c2038" stroke-width="1.1" stroke-opacity="0.9"/>
<circle cx="441.23" cy="291.70" r="2.7" fill="#58aaf2" stroke="#0c2038" stroke-width="1.1" stroke-opacity="0.9"/>
<circle cx="457.57" cy="296.00" r="2.7" fill="#58aaf2" stroke="#0c2038" stroke-width="1.1" stroke-opacity="0.9"/>
<circle cx="473.90" cy="304.40" r="2.7" fill="#58aaf2" stroke="#0c2038" stroke-width="1.1" stroke-opacity="0.9"/>
<circle cx="490.23" cy="264.60" r="2.7" fill="#58aaf2" stroke="#0c2038" stroke-width="1.1" stroke-opacity="0.9"/>
<circle cx="506.57" cy="293.80" r="2.7" fill="#58aaf2" stroke="#0c2038" stroke-width="1.1" stroke-opacity="0.9"/>
<circle cx="522.90" cy="294.90" r="2.7" fill="#58aaf2" stroke="#0c2038" stroke-width="1.1" stroke-opacity="0.9"/>
<circle cx="539.23" cy="301.80" r="2.7" fill="#58aaf2" stroke="#0c2038" stroke-width="1.1" stroke-opacity="0.9"/>
<circle cx="555.57" cy="273.10" r="2.7" fill="#58aaf2" stroke="#0c2038" stroke-width="1.1" stroke-opacity="0.9"/>
<circle cx="571.90" cy="295.30" r="2.7" fill="#58aaf2" stroke="#0c2038" stroke-width="1.1" stroke-opacity="0.9"/>
<circle cx="588.23" cy="298.00" r="2.7" fill="#58aaf2" stroke="#0c2038" stroke-width="1.1" stroke-opacity="0.9"/>
<circle cx="604.57" cy="301.20" r="2.7" fill="#58aaf2" stroke="#0c2038" stroke-width="1.1" stroke-opacity="0.9"/>
<circle cx="620.90" cy="268.40" r="2.7" fill="#58aaf2" stroke="#0c2038" stroke-width="1.1" stroke-opacity="0.9"/>
<circle cx="637.23" cy="290.40" r="2.7" fill="#58aaf2" stroke="#0c2038" stroke-width="1.1" stroke-opacity="0.9"/>
<circle cx="653.57" cy="295.00" r="2.7" fill="#58aaf2" stroke="#0c2038" stroke-width="1.1" stroke-opacity="0.9"/>
<circle cx="669.90" cy="303.30" r="2.7" fill="#58aaf2" stroke="#0c2038" stroke-width="1.1" stroke-opacity="0.9"/>
<circle cx="686.23" cy="283.20" r="2.7" fill="#58aaf2" stroke="#0c2038" stroke-width="1.1" stroke-opacity="0.9"/>
<circle cx="702.57" cy="296.30" r="2.7" fill="#58aaf2" stroke="#0c2038" stroke-width="1.1" stroke-opacity="0.9"/>
<circle cx="718.90" cy="302.70" r="2.7" fill="#58aaf2" stroke="#0c2038" stroke-width="1.1" stroke-opacity="0.9"/>
<circle cx="735.23" cy="306.50" r="2.7" fill="#58aaf2" stroke="#0c2038" stroke-width="1.1" stroke-opacity="0.9"/>
<line x1="57.40" x2="743.40" y1="309.90" y2="309.90" stroke="#c4c4c4" stroke-width="1"/>
<line x1="57.40" x2="57.40" y1="309.90" y2="315.40" stroke="#c4c4c4" stroke-width="1"/>
<line x1="73.73" x2="73.73" y1="309.90" y2="315.40" stroke="#c4c4c4" stroke-width="1"/>
<line x1="90.07" x2="90.07" y1="309.90" y2="315.40" stroke="#c4c4c4" stroke-width="1"/>
<line x1="106.40" x2="106.40" y1="309.90" y2="315.40" stroke="#c4c4c4" stroke-width="1"/>
<line x1="122.73" x2="122.73" y1="309.90" y2="315.40" stroke="#c4c4c4" stroke-width="1"/>
<line x1="139.07" x2="139.07" y1="309.90" y2="315.40" stroke="#c4c4c4" stroke-width="1"/>
<line x1="155.40" x2="155.40" y1="309.90" y2="315.40" stroke="#c4c4c4" stroke-width="1"/>
<line x1="171.73" x2="171.73" y1="309.90" y2="315.40" stroke="#c4c4c4" stroke-width="1"/>
<line x1="188.07" x2="188.07" y1="309.90" y2="315.40" stroke="#c4c4c4" stroke-width="1"/>
<line x1="204.40" x2="204.40" y1="309.90" y2="315.40" stroke="#c4c4c4" stroke-width="1"/>
<line x1="220.73" x2="220.73" y1="309.90" y2="315.40" stroke="#c4c4c4" stroke-width="1"/>
<line x1="237.07" x2="237.07" y1="309.90" y2="315.40" stroke="#c4c4c4" stroke-width="1"/>
<line x1="253.40" x2="253.40" y1="309.90" y2="315.40" stroke="#c4c4c4" stroke-width="1"/>
<line x1="269.73" x2="269.73" y1="309.90" y2="315.40" stroke="#c4c4c4" stroke-width="1"/>
<line x1="286.07" x2="286.07" y1="309.90" y2="315.40" stroke="#c4c4c4" stroke-width="1"/>
<line x1="302.40" x2="302.40" y1="309.90" y2="315.40" stroke="#c4c4c4" stroke-width="1"/>
<line x1="318.73" x2="318.73" y1="309.90" y2="315.40" stroke="#c4c4c4" stroke-width="1"/>
<line x1="335.07" x2="335.07" y1="309.90" y2="315.40" stroke="#c4c4c4" stroke-width="1"/>
<line x1="351.40" x2="351.40" y1="309.90" y2="315.40" stroke="#c4c4c4" stroke-width="1"/>
<line x1="367.73" x2="367.73" y1="309.90" y2="315.40" stroke="#c4c4c4" stroke-width="1"/>
<line x1="384.07" x2="384.07" y1="309.90" y2="315.40" stroke="#c4c4c4" stroke-width="1"/>
<line x1="400.40" x2="400.40" y1="309.90" y2="315.40" stroke="#c4c4c4" stroke-width="1"/>
<line x1="416.73" x2="416.73" y1="309.90" y2="315.40" stroke="#c4c4c4" stroke-width="1"/>
<line x1="433.07" x2="433.07" y1="309.90" y2="315.40" stroke="#c4c4c4" stroke-width="1"/>
<line x1="449.40" x2="449.40" y1="309.90" y2="315.40" stroke="#c4c4c4" stroke-width="1"/>
<line x1="465.73" x2="465.73" y1="309.90" y2="315.40" stroke="#c4c4c4" stroke-width="1"/>
<line x1="482.07" x2="482.07" y1="309.90" y2="315.40" stroke="#c4c4c4" stroke-width="1"/>
<line x1="498.40" x2="498.40" y1="309.90" y2="315.40" stroke="#c4c4c4" stroke-width="1"/>
<line x1="514.73" x2="514.73" y1="309.90" y2="315.40" stroke="#c4c4c4" stroke-width="1"/>
<line x1="531.07" x2="531.07" y1="309.90" y2="315.40" stroke="#c4c4c4" stroke-width="1"/>
<line x1="547.40" x2="547.40" y1="309.90" y2="315.40" stroke="#c4c4c4" stroke-width="1"/>
<line x1="563.73" x2="563.73" y1="309.90" y2="315.40" stroke="#c4c4c4" stroke-width="1"/>
<line x1="580.07" x2="580.07" y1="309.90" y2="315.40" stroke="#c4c4c4" stroke-width="1"/>
<line x1="596.40" x2="596.40" y1="309.90" y2="315.40" stroke="#c4c4c4" stroke-width="1"/>
<line x1="612.73" x2="612.73" y1="309.90" y2="315.40" stroke="#c4c4c4" stroke-width="1"/>
<line x1="629.07" x2="629.07" y1="309.90" y2="315.40" stroke="#c4c4c4" stroke-width="1"/>
<line x1="645.40" x2="645.40" y1="309.90" y2="315.40" stroke="#c4c4c4" stroke-width="1"/>
<line x1="661.73" x2="661.73" y1="309.90" y2="315.40" stroke="#c4c4c4" stroke-width="1"/>
<line x1="678.07" x2="678.07" y1="309.90" y2="315.40" stroke="#c4c4c4" stroke-width="1"/>
<line x1="694.40" x2="694.40" y1="309.90" y2="315.40" stroke="#c4c4c4" stroke-width="1"/>
<line x1="710.73" x2="710.73" y1="309.90" y2="315.40" stroke="#c4c4c4" stroke-width="1"/>
<line x1="727.07" x2="727.07" y1="309.90" y2="315.40" stroke="#c4c4c4" stroke-width="1"/>
<line x1="743.40" x2="743.40" y1="309.90" y2="315.40" stroke="#c4c4c4" stroke-width="1"/>
<text transform="translate(66.17,321.40) rotate(-45)" text-anchor="end" font-size="7.15" fill="#747474">Jun-2022</text>
<text transform="translate(82.50,321.40) rotate(-45)" text-anchor="end" font-size="7.15" fill="#747474">Mar-2022</text>
<text transform="translate(98.83,321.40) rotate(-45)" text-anchor="end" font-size="7.15" fill="#747474">Dec-2021</text>
<text transform="translate(115.17,321.40) rotate(-45)" text-anchor="end" font-size="7.15" fill="#747474">Sep-2021</text>
<text transform="translate(131.50,321.40) rotate(-45)" text-anchor="end" font-size="7.15" fill="#747474">Jun-2021</text>
<text transform="translate(147.83,321.40) rotate(-45)" text-anchor="end" font-size="7.15" fill="#747474">Mar-2021</text>
<text transform="translate(164.17,321.40) rotate(-45)" text-anchor="end" font-size="7.15" fill="#747474">Dec-2020</text>
<text transform="translate(180.50,321.40) rotate(-45)" text-anchor="end" font-size="7.15" fill="#747474">Sep-2020</text>
<text transform="translate(196.83,321.40) rotate(-45)" text-anchor="end" font-size="7.15" fill="#747474">Jun-2020</text>
<text transform="translate(213.17,321.40) rotate(-45)" text-anchor="end" font-size="7.15" fill="#747474">Mar-2020</text>
<text transform="translate(229.50,321.40) rotate(-45)" text-anchor="end" font-size="7.15" fill="#747474">Dec-2019</text>
<text transform="translate(245.83,321.40) rotate(-45)" text-anchor="end" font-size="7.15" fill="#747474">Sep-2019</text>
<text transform="translate(262.17,321.40) rotate(-45)" text-anchor="end" font-size="7.15" fill="#747474">Jun-2019</text>
<text transform="translate(278.50,321.40) rotate(-45)" text-anchor="end" font-size="7.15" fill="#747474">Mar-2019</text>
<text transform="translate(294.83,321.40) rotate(-45)" text-anchor="end" font-size="7.15" fill="#747474">Dec-2018</text>
<text transform="translate(311.17,321.40) rotate(-45)" text-anchor="end" font-size="7.15" fill="#747474">Sep-2018</text>
<text transform="translate(327.50,321.40) rotate(-45)" text-anchor="end" font-size="7.15" fill="#747474">Jun-2018</text>
<text transform="translate(343.83,321.40) rotate(-45)" text-anchor="end" font-size="7.15" fill="#747474">Mar-2018</text>
<text transform="translate(360.17,321.40) rotate(-45)" text-anchor="end" font-size="7.15" fill="#747474">Dec-2017</text>
<text transform="translate(376.50,321.40) rotate(-45)" text-anchor="end" font-size="7.15" fill="#747474">Sep-2017</text>
<text transform="translate(392.83,321.40) rotate(-45)" text-anchor="end" font-size="7.15" fill="#747474">Jun-2017</text>
<text transform="translate(409.17,321.40) rotate(-45)" text-anchor="end" font-size="7.15" fill="#747474">Mar-2017</text>
<text transform="translate(425.50,321.40) rotate(-45)" text-anchor="end" font-size="7.15" fill="#747474">Dec-2016</text>
<text transform="translate(441.83,321.40) rotate(-45)" text-anchor="end" font-size="7.15" fill="#747474">Sep-2016</text>
<text transform="translate(458.17,321.40) rotate(-45)" text-anchor="end" font-size="7.15" fill="#747474">Jun-2016</text>
<text transform="translate(474.50,321.40) rotate(-45)" text-anchor="end" font-size="7.15" fill="#747474">Mar-2016</text>
<text transform="translate(490.83,321.40) rotate(-45)" text-anchor="end" font-size="7.15" fill="#747474">Dec-2015</text>
<text transform="translate(507.17,321.40) rotate(-45)" text-anchor="end" font-size="7.15" fill="#747474">Sep-2015</text>
<text transform="translate(523.50,321.40) rotate(-45)" text-anchor="end" font-size="7.15" fill="#747474">Jun-2015</text>
<text transform="translate(539.83,321.40) rotate(-45)" text-anchor="end" font-size="7.15" fill="#747474">Mar-2015</text>
<text transform="translate(556.17,321.40) rotate(-45)" text-anchor="end" font-size="7.15" fill="#747474">Dec-2014</text>
<text transform="translate(572.50,321.40) rotate(-45)" text-anchor="end" font-size="7.15" fill="#747474">Sep-2014</text>
<text transform="translate(588.83,321.40) rotate(-45)" text-anchor="end" font-size="7.15" fill="#747474">Jun-2014</text>
<text transform="translate(605.17,321.40) rotate(-45)" text-anchor="end" font-size="7.15" fill="#747474">Mar-2014</text>
<text transform="translate(621.50,321.40) rotate(-45)" text-anchor="end" font-size="7.15" fill="#747474">Dec-2013</text>
<text transform="translate(637.83,321.40) rotate(-45)" text-anchor="end" font-size="7.15" fill="#747474">Sep-2013</text>
<text transform="translate(654.17,321.40) rotate(-45)" text-anchor="end" font-size="7.15" fill="#747474">Jun-2013</text>
<text transform="translate(670.50,321.40) rotate(-45)" text-anchor="end" font-size="7.15" fill="#747474">Mar-2013</text>
<text transform="translate(686.83,321.40) rotate(-45)" text-anchor="end" font-size="7.15" fill="#747474">Dec-2012</text>
<text transform="translate(703.17,321.40) rotate(-45)" text-anchor="end" font-size="7.15" fill="#747474">Sep-2012</text>
<text transform="translate(719.50,321.40) rotate(-45)" text-anchor="end" font-size="7.15" fill="#747474">Jun-2012</text>
<text transform="translate(735.83,321.40) rotate(-45)" text-anchor="end" font-size="7.15" fill="#747474">Mar-2012</text>
<line x1="309.00" x2="320.00" y1="195.20" y2="195.20" stroke="#2f78c0" stroke-width="2"/>
<circle cx="314.50" cy="195.20" r="2.6" fill="#5aabf2"/>
<text x="323.00" y="198.40" font-size="8.4" font-weight="bold" fill="#d2d2d2" textLength="110" lengthAdjust="spacingAndGlyphs">[XEBT] Income From Operations</text>
<rect x="728.6" y="184" width="13.8" height="7.2" fill="#2b2b2b"/>
<path d="M733.1999999999999,187.8 L735.8,184.6 L738.4,187.8" fill="none" stroke="#9a9a9a" stroke-width="1"/>
<rect x="5" y="361" width="742" height="156.5" fill="#1b1b1b"/>
<rect x="5.5" y="361.5" width="741" height="155.5" fill="none" stroke="#121212" stroke-width="1"/>
<rect x="7" y="362" width="0.8" height="154.5" fill="#222222"/>
<rect x="76.42" y="382.00" width="18.17" height="98.50" fill="#252529"/>
<rect x="76.42" y="382.00" width="1" height="98.50" fill="#29292d"/>
<rect x="92.99" y="382.00" width="1.6" height="98.50" fill="#2a2a2e"/>
<rect x="108.96" y="382.00" width="18.17" height="98.50" fill="#252529"/>
<rect x="108.96" y="382.00" width="1" height="98.50" fill="#29292d"/>
<rect x="125.54" y="382.00" width="1.6" height="98.50" fill="#2a2a2e"/>
<rect x="141.51" y="382.00" width="18.17" height="98.50" fill="#252529"/>
<rect x="141.51" y="382.00" width="1" height="98.50" fill="#29292d"/>
<rect x="158.08" y="382.00" width="1.6" height="98.50" fill="#2a2a2e"/>
<rect x="174.05" y="382.00" width="18.17" height="98.50" fill="#252529"/>
<rect x="174.05" y="382.00" width="1" height="98.50" fill="#29292d"/>
<rect x="190.62" y="382.00" width="1.6" height="98.50" fill="#2a2a2e"/>
<rect x="206.59" y="382.00" width="18.17" height="98.50" fill="#252529"/>
<rect x="206.59" y="382.00" width="1" height="98.50" fill="#29292d"/>
<rect x="223.16" y="382.00" width="1.6" height="98.50" fill="#2a2a2e"/>
<rect x="239.14" y="382.00" width="18.17" height="98.50" fill="#252529"/>
<rect x="239.14" y="382.00" width="1" height="98.50" fill="#29292d"/>
<rect x="255.71" y="382.00" width="1.6" height="98.50" fill="#2a2a2e"/>
<rect x="271.68" y="382.00" width="18.17" height="98.50" fill="#252529"/>
<rect x="271.68" y="382.00" width="1" height="98.50" fill="#29292d"/>
<rect x="288.25" y="382.00" width="1.6" height="98.50" fill="#2a2a2e"/>
<rect x="304.22" y="382.00" width="18.17" height="98.50" fill="#252529"/>
<rect x="304.22" y="382.00" width="1" height="98.50" fill="#29292d"/>
<rect x="320.79" y="382.00" width="1.6" height="98.50" fill="#2a2a2e"/>
<rect x="336.76" y="382.00" width="18.17" height="98.50" fill="#252529"/>
<rect x="336.76" y="382.00" width="1" height="98.50" fill="#29292d"/>
<rect x="353.34" y="382.00" width="1.6" height="98.50" fill="#2a2a2e"/>
<rect x="369.31" y="382.00" width="18.17" height="98.50" fill="#252529"/>
<rect x="369.31" y="382.00" width="1" height="98.50" fill="#29292d"/>
<rect x="385.88" y="382.00" width="1.6" height="98.50" fill="#2a2a2e"/>
<rect x="401.85" y="382.00" width="18.17" height="98.50" fill="#252529"/>
<rect x="401.85" y="382.00" width="1" height="98.50" fill="#29292d"/>
<rect x="418.42" y="382.00" width="1.6" height="98.50" fill="#2a2a2e"/>
<rect x="434.39" y="382.00" width="18.17" height="98.50" fill="#252529"/>
<rect x="434.39" y="382.00" width="1" height="98.50" fill="#29292d"/>
<rect x="450.96" y="382.00" width="1.6" height="98.50" fill="#2a2a2e"/>
<rect x="466.94" y="382.00" width="18.17" height="98.50" fill="#252529"/>
<rect x="466.94" y="382.00" width="1" height="98.50" fill="#29292d"/>
<rect x="483.51" y="382.00" width="1.6" height="98.50" fill="#2a2a2e"/>
<rect x="499.48" y="382.00" width="18.17" height="98.50" fill="#252529"/>
<rect x="499.48" y="382.00" width="1" height="98.50" fill="#29292d"/>
<rect x="516.05" y="382.00" width="1.6" height="98.50" fill="#2a2a2e"/>
<rect x="532.02" y="382.00" width="18.17" height="98.50" fill="#252529"/>
<rect x="532.02" y="382.00" width="1" height="98.50" fill="#29292d"/>
<rect x="548.59" y="382.00" width="1.6" height="98.50" fill="#2a2a2e"/>
<rect x="564.56" y="382.00" width="18.17" height="98.50" fill="#252529"/>
<rect x="564.56" y="382.00" width="1" height="98.50" fill="#29292d"/>
<rect x="581.14" y="382.00" width="1.6" height="98.50" fill="#2a2a2e"/>
<rect x="597.11" y="382.00" width="18.17" height="98.50" fill="#252529"/>
<rect x="597.11" y="382.00" width="1" height="98.50" fill="#29292d"/>
<rect x="613.68" y="382.00" width="1.6" height="98.50" fill="#2a2a2e"/>
<rect x="629.65" y="382.00" width="18.17" height="98.50" fill="#252529"/>
<rect x="629.65" y="382.00" width="1" height="98.50" fill="#29292d"/>
<rect x="646.22" y="382.00" width="1.6" height="98.50" fill="#2a2a2e"/>
<rect x="662.19" y="382.00" width="18.17" height="98.50" fill="#252529"/>
<rect x="662.19" y="382.00" width="1" height="98.50" fill="#29292d"/>
<rect x="678.76" y="382.00" width="1.6" height="98.50" fill="#2a2a2e"/>
<rect x="694.74" y="382.00" width="18.17" height="98.50" fill="#252529"/>
<rect x="694.74" y="382.00" width="1" height="98.50" fill="#29292d"/>
<rect x="711.31" y="382.00" width="1.6" height="98.50" fill="#2a2a2e"/>
<rect x="727.28" y="382.00" width="18.17" height="98.50" fill="#252529"/>
<rect x="727.28" y="382.00" width="1" height="98.50" fill="#29292d"/>
<rect x="743.85" y="382.00" width="1.6" height="98.50" fill="#2a2a2e"/>
<line x1="61.10" x2="744.50" y1="382.00" y2="382.00" stroke="#2a2929" stroke-width="1"/>
<line x1="61.10" x2="744.50" y1="406.60" y2="406.60" stroke="#2a2929" stroke-width="1"/>
<line x1="61.10" x2="744.50" y1="431.30" y2="431.30" stroke="#2a2929" stroke-width="1"/>
<line x1="61.10" x2="744.50" y1="455.90" y2="455.90" stroke="#2a2929" stroke-width="1"/>
<text x="52.3" y="385.00" text-anchor="end" font-size="7.6" fill="#858585">5000000</text>
<text x="52.3" y="409.60" text-anchor="end" font-size="7.6" fill="#858585">2500000</text>
<text x="52.3" y="434.30" text-anchor="end" font-size="7.6" fill="#858585">0</text>
<text x="52.3" y="458.90" text-anchor="end" font-size="7.6" fill="#858585">−2500000</text>
<text x="52.3" y="483.50" text-anchor="end" font-size="7.6" fill="#858585">−5000000</text>
<text transform="translate(12.0,430.70) rotate(-90)" text-anchor="middle" font-size="8.1" fill="#6e6e6e">Ratios / Others</text>
<path d="M69.24,426.20 C69.24,426.20 79.00,448.60 85.51,448.60 C92.02,448.60 95.27,401.40 101.78,401.40 C108.29,401.40 111.54,416.60 118.05,424.00 C124.56,431.40 127.81,434.16 134.32,438.40 C140.83,442.64 144.08,445.20 150.59,445.20 C157.10,445.20 160.36,433.18 166.86,425.70 C173.37,418.22 176.63,407.80 183.14,407.80 C189.64,407.80 192.90,427.50 199.41,434.60 C205.92,441.70 209.17,443.30 215.68,443.30 C222.19,443.30 225.44,400.40 231.95,400.40 C238.46,400.40 241.71,430.40 248.22,436.30 C254.73,442.20 257.98,442.20 264.49,442.20 C271.00,442.20 274.26,442.20 280.76,439.90 C287.27,437.60 290.53,402.90 297.04,402.90 C303.54,402.90 306.80,442.90 313.31,448.60 C319.82,454.30 323.07,454.30 329.58,454.30 C336.09,454.30 339.34,410.50 345.85,410.50 C352.36,410.50 355.61,426.84 362.12,432.50 C368.63,438.16 371.88,436.68 378.39,438.80 C384.90,440.92 388.16,443.10 394.66,443.10 C401.17,443.10 404.43,443.10 410.94,440.50 C417.44,437.90 420.70,429.50 427.21,429.50 C433.72,429.50 436.97,430.40 443.48,432.70 C449.99,435.00 453.24,441.00 459.75,441.00 C466.26,441.00 469.51,441.00 476.02,438.00 C482.53,435.00 485.78,423.20 492.29,423.20 C498.80,423.20 502.06,429.02 508.56,431.00 C515.07,432.98 518.33,432.46 524.84,433.10 C531.34,433.74 534.60,434.20 541.11,434.20 C547.62,434.20 550.87,419.80 557.38,419.80 C563.89,419.80 567.14,441.00 573.65,441.00 C580.16,441.00 583.41,433.10 589.92,433.10 C596.43,433.10 599.68,439.50 606.19,439.50 C612.70,439.50 615.96,417.30 622.46,417.30 C628.97,417.30 632.23,428.20 638.74,431.00 C645.24,433.80 648.50,432.74 655.01,433.80 C661.52,434.86 664.77,436.30 671.28,436.30 C677.79,436.30 681.04,421.10 687.55,421.10 C694.06,421.10 697.31,427.78 703.82,430.40 C710.33,433.02 713.58,433.22 720.09,434.20 C726.60,435.18 736.36,435.30 736.36,435.30" fill="none" stroke="#0b1d33" stroke-width="3.5" stroke-opacity="0.85"/>
<path d="M69.24,426.20 C69.24,426.20 79.00,448.60 85.51,448.60 C92.02,448.60 95.27,401.40 101.78,401.40 C108.29,401.40 111.54,416.60 118.05,424.00 C124.56,431.40 127.81,434.16 134.32,438.40 C140.83,442.64 144.08,445.20 150.59,445.20 C157.10,445.20 160.36,433.18 166.86,425.70 C173.37,418.22 176.63,407.80 183.14,407.80 C189.64,407.80 192.90,427.50 199.41,434.60 C205.92,441.70 209.17,443.30 215.68,443.30 C222.19,443.30 225.44,400.40 231.95,400.40 C238.46,400.40 241.71,430.40 248.22,436.30 C254.73,442.20 257.98,442.20 264.49,442.20 C271.00,442.20 274.26,442.20 280.76,439.90 C287.27,437.60 290.53,402.90 297.04,402.90 C303.54,402.90 306.80,442.90 313.31,448.60 C319.82,454.30 323.07,454.30 329.58,454.30 C336.09,454.30 339.34,410.50 345.85,410.50 C352.36,410.50 355.61,426.84 362.12,432.50 C368.63,438.16 371.88,436.68 378.39,438.80 C384.90,440.92 388.16,443.10 394.66,443.10 C401.17,443.10 404.43,443.10 410.94,440.50 C417.44,437.90 420.70,429.50 427.21,429.50 C433.72,429.50 436.97,430.40 443.48,432.70 C449.99,435.00 453.24,441.00 459.75,441.00 C466.26,441.00 469.51,441.00 476.02,438.00 C482.53,435.00 485.78,423.20 492.29,423.20 C498.80,423.20 502.06,429.02 508.56,431.00 C515.07,432.98 518.33,432.46 524.84,433.10 C531.34,433.74 534.60,434.20 541.11,434.20 C547.62,434.20 550.87,419.80 557.38,419.80 C563.89,419.80 567.14,441.00 573.65,441.00 C580.16,441.00 583.41,433.10 589.92,433.10 C596.43,433.10 599.68,439.50 606.19,439.50 C612.70,439.50 615.96,417.30 622.46,417.30 C628.97,417.30 632.23,428.20 638.74,431.00 C645.24,433.80 648.50,432.74 655.01,433.80 C661.52,434.86 664.77,436.30 671.28,436.30 C677.79,436.30 681.04,421.10 687.55,421.10 C694.06,421.10 697.31,427.78 703.82,430.40 C710.33,433.02 713.58,433.22 720.09,434.20 C726.60,435.18 736.36,435.30 736.36,435.30" fill="none" stroke="#1a4370" stroke-width="1.8"/>
<path d="M69.24,426.20 C69.24,426.20 79.00,448.60 85.51,448.60 C92.02,448.60 95.27,401.40 101.78,401.40 C108.29,401.40 111.54,416.60 118.05,424.00 C124.56,431.40 127.81,434.16 134.32,438.40 C140.83,442.64 144.08,445.20 150.59,445.20 C157.10,445.20 160.36,433.18 166.86,425.70 C173.37,418.22 176.63,407.80 183.14,407.80 C189.64,407.80 192.90,427.50 199.41,434.60 C205.92,441.70 209.17,443.30 215.68,443.30 C222.19,443.30 225.44,400.40 231.95,400.40 C238.46,400.40 241.71,430.40 248.22,436.30 C254.73,442.20 257.98,442.20 264.49,442.20 C271.00,442.20 274.26,442.20 280.76,439.90 C287.27,437.60 290.53,402.90 297.04,402.90 C303.54,402.90 306.80,442.90 313.31,448.60 C319.82,454.30 323.07,454.30 329.58,454.30 C336.09,454.30 339.34,410.50 345.85,410.50 C352.36,410.50 355.61,426.84 362.12,432.50 C368.63,438.16 371.88,436.68 378.39,438.80 C384.90,440.92 388.16,443.10 394.66,443.10 C401.17,443.10 404.43,443.10 410.94,440.50 C417.44,437.90 420.70,429.50 427.21,429.50 C433.72,429.50 436.97,430.40 443.48,432.70 C449.99,435.00 453.24,441.00 459.75,441.00 C466.26,441.00 469.51,441.00 476.02,438.00 C482.53,435.00 485.78,423.20 492.29,423.20 C498.80,423.20 502.06,429.02 508.56,431.00 C515.07,432.98 518.33,432.46 524.84,433.10 C531.34,433.74 534.60,434.20 541.11,434.20 C547.62,434.20 550.87,419.80 557.38,419.80 C563.89,419.80 567.14,441.00 573.65,441.00 C580.16,441.00 583.41,433.10 589.92,433.10 C596.43,433.10 599.68,439.50 606.19,439.50 C612.70,439.50 615.96,417.30 622.46,417.30 C628.97,417.30 632.23,428.20 638.74,431.00 C645.24,433.80 648.50,432.74 655.01,433.80 C661.52,434.86 664.77,436.30 671.28,436.30 C677.79,436.30 681.04,421.10 687.55,421.10 C694.06,421.10 697.31,427.78 703.82,430.40 C710.33,433.02 713.58,433.22 720.09,434.20 C726.60,435.18 736.36,435.30 736.36,435.30" fill="none" stroke="#b4c4d6" stroke-width="1.35" stroke-dasharray="3.2 1.8"/>
<circle cx="69.24" cy="426.20" r="2.7" fill="#58aaf2" stroke="#0c2038" stroke-width="1.1" stroke-opacity="0.9"/>
<circle cx="85.51" cy="448.60" r="2.7" fill="#58aaf2" stroke="#0c2038" stroke-width="1.1" stroke-opacity="0.9"/>
<circle cx="101.78" cy="401.40" r="2.7" fill="#58aaf2" stroke="#0c2038" stroke-width="1.1" stroke-opacity="0.9"/>
<circle cx="118.05" cy="424.00" r="2.7" fill="#58aaf2" stroke="#0c2038" stroke-width="1.1" stroke-opacity="0.9"/>
<circle cx="134.32" cy="438.40" r="2.7" fill="#58aaf2" stroke="#0c2038" stroke-width="1.1" stroke-opacity="0.9"/>
<circle cx="150.59" cy="445.20" r="2.7" fill="#58aaf2" stroke="#0c2038" stroke-width="1.1" stroke-opacity="0.9"/>
<circle cx="166.86" cy="425.70" r="2.7" fill="#58aaf2" stroke="#0c2038" stroke-width="1.1" stroke-opacity="0.9"/>
<circle cx="183.14" cy="407.80" r="2.7" fill="#58aaf2" stroke="#0c2038" stroke-width="1.1" stroke-opacity="0.9"/>
<circle cx="199.41" cy="434.60" r="2.7" fill="#58aaf2" stroke="#0c2038" stroke-width="1.1" stroke-opacity="0.9"/>
<circle cx="215.68" cy="443.30" r="2.7" fill="#58aaf2" stroke="#0c2038" stroke-width="1.1" stroke-opacity="0.9"/>
<circle cx="231.95" cy="400.40" r="2.7" fill="#58aaf2" stroke="#0c2038" stroke-width="1.1" stroke-opacity="0.9"/>
<circle cx="248.22" cy="436.30" r="2.7" fill="#58aaf2" stroke="#0c2038" stroke-width="1.1" stroke-opacity="0.9"/>
<circle cx="264.49" cy="442.20" r="2.7" fill="#58aaf2" stroke="#0c2038" stroke-width="1.1" stroke-opacity="0.9"/>
<circle cx="280.76" cy="439.90" r="2.7" fill="#58aaf2" stroke="#0c2038" stroke-width="1.1" stroke-opacity="0.9"/>
<circle cx="297.04" cy="402.90" r="2.7" fill="#58aaf2" stroke="#0c2038" stroke-width="1.1" stroke-opacity="0.9"/>
<circle cx="313.31" cy="448.60" r="2.7" fill="#58aaf2" stroke="#0c2038" stroke-width="1.1" stroke-opacity="0.9"/>
<circle cx="329.58" cy="454.30" r="2.7" fill="#58aaf2" stroke="#0c2038" stroke-width="1.1" stroke-opacity="0.9"/>
<circle cx="345.85" cy="410.50" r="2.7" fill="#58aaf2" stroke="#0c2038" stroke-width="1.1" stroke-opacity="0.9"/>
<circle cx="362.12" cy="432.50" r="2.7" fill="#58aaf2" stroke="#0c2038" stroke-width="1.1" stroke-opacity="0.9"/>
<circle cx="378.39" cy="438.80" r="2.7" fill="#58aaf2" stroke="#0c2038" stroke-width="1.1" stroke-opacity="0.9"/>
<circle cx="394.66" cy="443.10" r="2.7" fill="#58aaf2" stroke="#0c2038" stroke-width="1.1" stroke-opacity="0.9"/>
<circle cx="410.94" cy="440.50" r="2.7" fill="#58aaf2" stroke="#0c2038" stroke-width="1.1" stroke-opacity="0.9"/>
<circle cx="427.21" cy="429.50" r="2.7" fill="#58aaf2" stroke="#0c2038" stroke-width="1.1" stroke-opacity="0.9"/>
<circle cx="443.48" cy="432.70" r="2.7" fill="#58aaf2" stroke="#0c2038" stroke-width="1.1" stroke-opacity="0.9"/>
<circle cx="459.75" cy="441.00" r="2.7" fill="#58aaf2" stroke="#0c2038" stroke-width="1.1" stroke-opacity="0.9"/>
<circle cx="476.02" cy="438.00" r="2.7" fill="#58aaf2" stroke="#0c2038" stroke-width="1.1" stroke-opacity="0.9"/>
<circle cx="492.29" cy="423.20" r="2.7" fill="#58aaf2" stroke="#0c2038" stroke-width="1.1" stroke-opacity="0.9"/>
<circle cx="508.56" cy="431.00" r="2.7" fill="#58aaf2" stroke="#0c2038" stroke-width="1.1" stroke-opacity="0.9"/>
<circle cx="524.84" cy="433.10" r="2.7" fill="#58aaf2" stroke="#0c2038" stroke-width="1.1" stroke-opacity="0.9"/>
<circle cx="541.11" cy="434.20" r="2.7" fill="#58aaf2" stroke="#0c2038" stroke-width="1.1" stroke-opacity="0.9"/>
<circle cx="557.38" cy="419.80" r="2.7" fill="#58aaf2" stroke="#0c2038" stroke-width="1.1" stroke-opacity="0.9"/>
<circle cx="573.65" cy="441.00" r="2.7" fill="#58aaf2" stroke="#0c2038" stroke-width="1.1" stroke-opacity="0.9"/>
<circle cx="589.92" cy="433.10" r="2.7" fill="#58aaf2" stroke="#0c2038" stroke-width="1.1" stroke-opacity="0.9"/>
<circle cx="606.19" cy="439.50" r="2.7" fill="#58aaf2" stroke="#0c2038" stroke-width="1.1" stroke-opacity="0.9"/>
<circle cx="622.46" cy="417.30" r="2.7" fill="#58aaf2" stroke="#0c2038" stroke-width="1.1" stroke-opacity="0.9"/>
<circle cx="638.74" cy="431.00" r="2.7" fill="#58aaf2" stroke="#0c2038" stroke-width="1.1" stroke-opacity="0.9"/>
<circle cx="655.01" cy="433.80" r="2.7" fill="#58aaf2" stroke="#0c2038" stroke-width="1.1" stroke-opacity="0.9"/>
<circle cx="671.28" cy="436.30" r="2.7" fill="#58aaf2" stroke="#0c2038" stroke-width="1.1" stroke-opacity="0.9"/>
<circle cx="687.55" cy="421.10" r="2.7" fill="#58aaf2" stroke="#0c2038" stroke-width="1.1" stroke-opacity="0.9"/>
<circle cx="703.82" cy="430.40" r="2.7" fill="#58aaf2" stroke="#0c2038" stroke-width="1.1" stroke-opacity="0.9"/>
<circle cx="720.09" cy="434.20" r="2.7" fill="#58aaf2" stroke="#0c2038" stroke-width="1.1" stroke-opacity="0.9"/>
<circle cx="736.36" cy="435.30" r="2.7" fill="#58aaf2" stroke="#0c2038" stroke-width="1.1" stroke-opacity="0.9"/>
<line x1="61.10" x2="744.50" y1="480.50" y2="480.50" stroke="#c4c4c4" stroke-width="1"/>
<line x1="61.10" x2="61.10" y1="480.50" y2="486.00" stroke="#c4c4c4" stroke-width="1"/>
<line x1="77.37" x2="77.37" y1="480.50" y2="486.00" stroke="#c4c4c4" stroke-width="1"/>
<line x1="93.64" x2="93.64" y1="480.50" y2="486.00" stroke="#c4c4c4" stroke-width="1"/>
<line x1="109.91" x2="109.91" y1="480.50" y2="486.00" stroke="#c4c4c4" stroke-width="1"/>
<line x1="126.19" x2="126.19" y1="480.50" y2="486.00" stroke="#c4c4c4" stroke-width="1"/>
<line x1="142.46" x2="142.46" y1="480.50" y2="486.00" stroke="#c4c4c4" stroke-width="1"/>
<line x1="158.73" x2="158.73" y1="480.50" y2="486.00" stroke="#c4c4c4" stroke-width="1"/>
<line x1="175.00" x2="175.00" y1="480.50" y2="486.00" stroke="#c4c4c4" stroke-width="1"/>
<line x1="191.27" x2="191.27" y1="480.50" y2="486.00" stroke="#c4c4c4" stroke-width="1"/>
<line x1="207.54" x2="207.54" y1="480.50" y2="486.00" stroke="#c4c4c4" stroke-width="1"/>
<line x1="223.81" x2="223.81" y1="480.50" y2="486.00" stroke="#c4c4c4" stroke-width="1"/>
<line x1="240.09" x2="240.09" y1="480.50" y2="486.00" stroke="#c4c4c4" stroke-width="1"/>
<line x1="256.36" x2="256.36" y1="480.50" y2="486.00" stroke="#c4c4c4" stroke-width="1"/>
<line x1="272.63" x2="272.63" y1="480.50" y2="486.00" stroke="#c4c4c4" stroke-width="1"/>
<line x1="288.90" x2="288.90" y1="480.50" y2="486.00" stroke="#c4c4c4" stroke-width="1"/>
<line x1="305.17" x2="305.17" y1="480.50" y2="486.00" stroke="#c4c4c4" stroke-width="1"/>
<line x1="321.44" x2="321.44" y1="480.50" y2="486.00" stroke="#c4c4c4" stroke-width="1"/>
<line x1="337.71" x2="337.71" y1="480.50" y2="486.00" stroke="#c4c4c4" stroke-width="1"/>
<line x1="353.99" x2="353.99" y1="480.50" y2="486.00" stroke="#c4c4c4" stroke-width="1"/>
<line x1="370.26" x2="370.26" y1="480.50" y2="486.00" stroke="#c4c4c4" stroke-width="1"/>
<line x1="386.53" x2="386.53" y1="480.50" y2="486.00" stroke="#c4c4c4" stroke-width="1"/>
<line x1="402.80" x2="402.80" y1="480.50" y2="486.00" stroke="#c4c4c4" stroke-width="1"/>
<line x1="419.07" x2="419.07" y1="480.50" y2="486.00" stroke="#c4c4c4" stroke-width="1"/>
<line x1="435.34" x2="435.34" y1="480.50" y2="486.00" stroke="#c4c4c4" stroke-width="1"/>
<line x1="451.61" x2="451.61" y1="480.50" y2="486.00" stroke="#c4c4c4" stroke-width="1"/>
<line x1="467.89" x2="467.89" y1="480.50" y2="486.00" stroke="#c4c4c4" stroke-width="1"/>
<line x1="484.16" x2="484.16" y1="480.50" y2="486.00" stroke="#c4c4c4" stroke-width="1"/>
<line x1="500.43" x2="500.43" y1="480.50" y2="486.00" stroke="#c4c4c4" stroke-width="1"/>
<line x1="516.70" x2="516.70" y1="480.50" y2="486.00" stroke="#c4c4c4" stroke-width="1"/>
<line x1="532.97" x2="532.97" y1="480.50" y2="486.00" stroke="#c4c4c4" stroke-width="1"/>
<line x1="549.24" x2="549.24" y1="480.50" y2="486.00" stroke="#c4c4c4" stroke-width="1"/>
<line x1="565.51" x2="565.51" y1="480.50" y2="486.00" stroke="#c4c4c4" stroke-width="1"/>
<line x1="581.79" x2="581.79" y1="480.50" y2="486.00" stroke="#c4c4c4" stroke-width="1"/>
<line x1="598.06" x2="598.06" y1="480.50" y2="486.00" stroke="#c4c4c4" stroke-width="1"/>
<line x1="614.33" x2="614.33" y1="480.50" y2="486.00" stroke="#c4c4c4" stroke-width="1"/>
<line x1="630.60" x2="630.60" y1="480.50" y2="486.00" stroke="#c4c4c4" stroke-width="1"/>
<line x1="646.87" x2="646.87" y1="480.50" y2="486.00" stroke="#c4c4c4" stroke-width="1"/>
<line x1="663.14" x2="663.14" y1="480.50" y2="486.00" stroke="#c4c4c4" stroke-width="1"/>
<line x1="679.41" x2="679.41" y1="480.50" y2="486.00" stroke="#c4c4c4" stroke-width="1"/>
<line x1="695.69" x2="695.69" y1="480.50" y2="486.00" stroke="#c4c4c4" stroke-width="1"/>
<line x1="711.96" x2="711.96" y1="480.50" y2="486.00" stroke="#c4c4c4" stroke-width="1"/>
<line x1="728.23" x2="728.23" y1="480.50" y2="486.00" stroke="#c4c4c4" stroke-width="1"/>
<line x1="744.50" x2="744.50" y1="480.50" y2="486.00" stroke="#c4c4c4" stroke-width="1"/>
<text transform="translate(69.84,492.00) rotate(-45)" text-anchor="end" font-size="7.15" fill="#747474">Jun-2022</text>
<text transform="translate(86.11,492.00) rotate(-45)" text-anchor="end" font-size="7.15" fill="#747474">Mar-2022</text>
<text transform="translate(102.38,492.00) rotate(-45)" text-anchor="end" font-size="7.15" fill="#747474">Dec-2021</text>
<text transform="translate(118.65,492.00) rotate(-45)" text-anchor="end" font-size="7.15" fill="#747474">Sep-2021</text>
<text transform="translate(134.92,492.00) rotate(-45)" text-anchor="end" font-size="7.15" fill="#747474">Jun-2021</text>
<text transform="translate(151.19,492.00) rotate(-45)" text-anchor="end" font-size="7.15" fill="#747474">Mar-2021</text>
<text transform="translate(167.46,492.00) rotate(-45)" text-anchor="end" font-size="7.15" fill="#747474">Dec-2020</text>
<text transform="translate(183.74,492.00) rotate(-45)" text-anchor="end" font-size="7.15" fill="#747474">Sep-2020</text>
<text transform="translate(200.01,492.00) rotate(-45)" text-anchor="end" font-size="7.15" fill="#747474">Jun-2020</text>
<text transform="translate(216.28,492.00) rotate(-45)" text-anchor="end" font-size="7.15" fill="#747474">Mar-2020</text>
<text transform="translate(232.55,492.00) rotate(-45)" text-anchor="end" font-size="7.15" fill="#747474">Dec-2019</text>
<text transform="translate(248.82,492.00) rotate(-45)" text-anchor="end" font-size="7.15" fill="#747474">Sep-2019</text>
<text transform="translate(265.09,492.00) rotate(-45)" text-anchor="end" font-size="7.15" fill="#747474">Jun-2019</text>
<text transform="translate(281.36,492.00) rotate(-45)" text-anchor="end" font-size="7.15" fill="#747474">Mar-2019</text>
<text transform="translate(297.64,492.00) rotate(-45)" text-anchor="end" font-size="7.15" fill="#747474">Dec-2018</text>
<text transform="translate(313.91,492.00) rotate(-45)" text-anchor="end" font-size="7.15" fill="#747474">Sep-2018</text>
<text transform="translate(330.18,492.00) rotate(-45)" text-anchor="end" font-size="7.15" fill="#747474">Jun-2018</text>
<text transform="translate(346.45,492.00) rotate(-45)" text-anchor="end" font-size="7.15" fill="#747474">Mar-2018</text>
<text transform="translate(362.72,492.00) rotate(-45)" text-anchor="end" font-size="7.15" fill="#747474">Dec-2017</text>
<text transform="translate(378.99,492.00) rotate(-45)" text-anchor="end" font-size="7.15" fill="#747474">Sep-2017</text>
<text transform="translate(395.26,492.00) rotate(-45)" text-anchor="end" font-size="7.15" fill="#747474">Jun-2017</text>
<text transform="translate(411.54,492.00) rotate(-45)" text-anchor="end" font-size="7.15" fill="#747474">Mar-2017</text>
<text transform="translate(427.81,492.00) rotate(-45)" text-anchor="end" font-size="7.15" fill="#747474">Dec-2016</text>
<text transform="translate(444.08,492.00) rotate(-45)" text-anchor="end" font-size="7.15" fill="#747474">Sep-2016</text>
<text transform="translate(460.35,492.00) rotate(-45)" text-anchor="end" font-size="7.15" fill="#747474">Jun-2016</text>
<text transform="translate(476.62,492.00) rotate(-45)" text-anchor="end" font-size="7.15" fill="#747474">Mar-2016</text>
<text transform="translate(492.89,492.00) rotate(-45)" text-anchor="end" font-size="7.15" fill="#747474">Dec-2015</text>
<text transform="translate(509.16,492.00) rotate(-45)" text-anchor="end" font-size="7.15" fill="#747474">Sep-2015</text>
<text transform="translate(525.44,492.00) rotate(-45)" text-anchor="end" font-size="7.15" fill="#747474">Jun-2015</text>
<text transform="translate(541.71,492.00) rotate(-45)" text-anchor="end" font-size="7.15" fill="#747474">Mar-2015</text>
<text transform="translate(557.98,492.00) rotate(-45)" text-anchor="end" font-size="7.15" fill="#747474">Dec-2014</text>
<text transform="translate(574.25,492.00) rotate(-45)" text-anchor="end" font-size="7.15" fill="#747474">Sep-2014</text>
<text transform="translate(590.52,492.00) rotate(-45)" text-anchor="end" font-size="7.15" fill="#747474">Jun-2014</text>
<text transform="translate(606.79,492.00) rotate(-45)" text-anchor="end" font-size="7.15" fill="#747474">Mar-2014</text>
<text transform="translate(623.06,492.00) rotate(-45)" text-anchor="end" font-size="7.15" fill="#747474">Dec-2013</text>
<text transform="translate(639.34,492.00) rotate(-45)" text-anchor="end" font-size="7.15" fill="#747474">Sep-2013</text>
<text transform="translate(655.61,492.00) rotate(-45)" text-anchor="end" font-size="7.15" fill="#747474">Jun-2013</text>
<text transform="translate(671.88,492.00) rotate(-45)" text-anchor="end" font-size="7.15" fill="#747474">Mar-2013</text>
<text transform="translate(688.15,492.00) rotate(-45)" text-anchor="end" font-size="7.15" fill="#747474">Dec-2012</text>
<text transform="translate(704.42,492.00) rotate(-45)" text-anchor="end" font-size="7.15" fill="#747474">Sep-2012</text>
<text transform="translate(720.69,492.00) rotate(-45)" text-anchor="end" font-size="7.15" fill="#747474">Jun-2012</text>
<text transform="translate(736.96,492.00) rotate(-45)" text-anchor="end" font-size="7.15" fill="#747474">Mar-2012</text>
<line x1="279.00" x2="290.00" y1="364.80" y2="364.80" stroke="#2f78c0" stroke-width="2"/>
<circle cx="284.50" cy="364.80" r="2.6" fill="#5aabf2"/>
<text x="293.00" y="368.00" font-size="8.4" font-weight="bold" fill="#d2d2d2" textLength="171" lengthAdjust="spacingAndGlyphs">[XTLO] Net Cash Flow Use in Operating Activities</text>
<rect x="6" y="514" width="740" height="2.6" fill="#161616"/>
<rect x="7" y="513" width="739" height="0.8" fill="#222222"/>
</svg>
</body></html>
